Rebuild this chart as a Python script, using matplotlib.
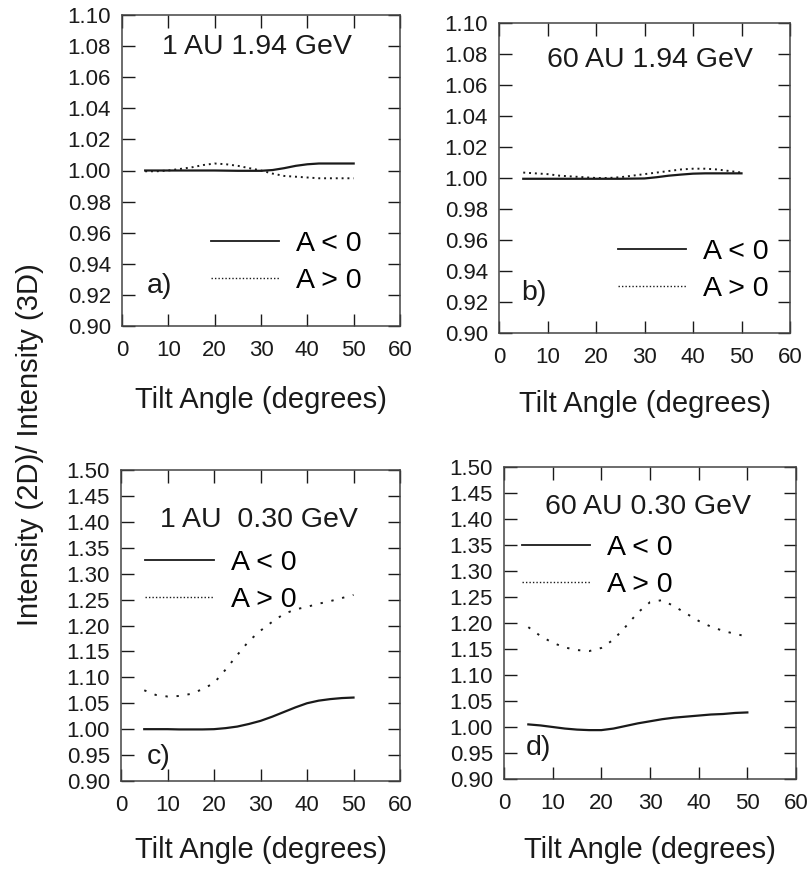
import numpy as np
import matplotlib
matplotlib.use("Agg")
import matplotlib.pyplot as plt
from matplotlib.lines import Line2D

plt.rcParams['font.family'] = ['Liberation Sans', 'DejaVu Sans']

################ Data ################

tilt = [5, 7.5, 10, 12.5, 15, 17.5, 20, 22.5, 25, 27.5, 30,
        32.5, 35, 37.5, 40, 42.5, 45, 47.5, 50]

a_neg = [1.000, 1.000, 1.000, 1.000, 1.000, 1.000, 1.000, 0.9999, 0.9998, 0.9998, 0.9998,
         1.0003, 1.0015, 1.003, 1.004, 1.0045, 1.0045, 1.0045, 1.0045]
a_pos = [0.9995, 0.9995, 1.000, 1.001, 1.002, 1.0035, 1.0045, 1.004, 1.003, 1.0015, 1.000,
         0.998, 0.9965, 0.996, 0.9955, 0.995, 0.995, 0.995, 0.995]

b_neg = [0.9995, 0.9995, 0.9995, 0.9995, 0.9995, 0.9995, 0.9995, 0.9995, 0.9995, 0.9996, 0.9997,
         1.0005, 1.0015, 1.0022, 1.0028, 1.003, 1.003, 1.003, 1.003]
b_pos = [1.0035, 1.003, 1.0025, 1.0015, 1.001, 1.0005, 1.000, 1.000, 1.0005, 1.0015, 1.0025,
         1.0035, 1.0045, 1.0055, 1.006, 1.006, 1.0055, 1.0045, 1.0035]

c_neg = [1.000, 1.000, 1.000, 0.9995, 0.9995, 0.9995, 1.000, 1.002, 1.005, 1.010, 1.016,
         1.024, 1.033, 1.042, 1.050, 1.055, 1.058, 1.060, 1.061]
c_pos = [1.075, 1.066, 1.063, 1.064, 1.068, 1.077, 1.089, 1.115, 1.143, 1.170, 1.190,
         1.207, 1.222, 1.231, 1.236, 1.242, 1.247, 1.253, 1.259]

d_neg = [1.005, 1.003, 1.000, 0.997, 0.995, 0.994, 0.994, 0.997, 1.002, 1.007, 1.011,
         1.015, 1.018, 1.020, 1.022, 1.024, 1.025, 1.027, 1.028]
d_pos = [1.192, 1.175, 1.162, 1.153, 1.148, 1.146, 1.152, 1.168, 1.193, 1.220, 1.240,
         1.244, 1.232, 1.218, 1.204, 1.193, 1.185, 1.179, 1.174]

titles = ['1 AU 1.94 GeV', '60 AU 1.94 GeV', '1 AU  0.30 GeV', '60 AU 0.30 GeV']
tags = ['a)', 'b)', 'c)', 'd)']
labels = ['A < 0', 'A > 0']
xticks = [0, 10, 20, 30, 40, 50, 60]
yticks_top = [0.90, 0.92, 0.94, 0.96, 0.98, 1.00, 1.02, 1.04, 1.06, 1.08, 1.10]
yticks_bot = [0.90, 0.95, 1.00, 1.05, 1.10, 1.15, 1.20, 1.25, 1.30, 1.35, 1.40, 1.45, 1.50]

################ Layout ################

W, H = 809, 875
fig = plt.figure(figsize=(W / 100, H / 100), dpi=100)

# axes boxes in pixels: left, top, right, bottom
boxes = [(122, 15, 400, 326), (499, 23, 790, 333),
         (121, 470, 400, 781), (504, 467, 796, 779)]
title_pos = [(0.486, 0.897), (0.519, 0.880), (0.495, 0.839), (0.493, 0.872)]
tag_pos = [(0.09, 0.129), (0.076, 0.129), (0.093, 0.077), (0.075, 0.100)]
xlabel_y = [400, 404, 850, 850]
# legend anchor (upper left corner, axes fraction)
leg_pos = [(0.32, 0.305), (0.408, 0.304), (0.087, 0.744), (0.061, 0.781)]

series = [(a_neg, a_pos), (b_neg, b_pos), (c_neg, c_pos), (d_neg, d_pos)]
ink = '#1a1a1a'

for i, (l, t, r, b) in enumerate(boxes):
    ax = fig.add_axes([l / W, 1 - b / H, (r - l) / W, (b - t) / H])
    neg, pos = series[i]
    dots = (0, (1, 2)) if i < 2 else (0, (1.2, 4.5))
    ax.plot(tilt, neg, color=ink, lw=1.6, ls='-')
    ax.plot(tilt, pos, color=ink, lw=1.4, ls=dots)

    ax.set_xlim(0, 60)
    ax.set_xticks(xticks)
    if i < 2:
        ax.set_ylim(0.90, 1.10)
        ax.set_yticks(yticks_top)
        ax.set_yticklabels(['%.2f' % v for v in yticks_top])
    else:
        ax.set_ylim(0.90, 1.50)
        ax.set_yticks(yticks_bot)
        ax.set_yticklabels(['%.2f' % v for v in yticks_bot])

    ax.tick_params(direction='in', length=9, width=1.0, top=True, right=True,
                   labelsize=16, colors=ink, pad=8)
    ax.tick_params(axis='x', pad=10)
    for s in ax.spines.values():
        s.set_linewidth(1.1)
        s.set_color('#444444')

    ax.text(*title_pos[i], titles[i], transform=ax.transAxes, fontsize=20.5,
            ha='center', va='center', color=ink)
    ax.text(*tag_pos[i], tags[i], transform=ax.transAxes, fontsize=20.5,
            ha='left', va='center', color=ink)

    handles = [Line2D([], [], color=ink, lw=1.3, ls='-'),
               Line2D([], [], color=ink, lw=1.0, ls=(0, (1, 1.5)))]
    ax.legend(handles, labels, loc='upper left', bbox_to_anchor=leg_pos[i],
              frameon=False, fontsize=20.5, handlelength=2.4, handletextpad=0.6,
              labelspacing=0.39, borderpad=0, borderaxespad=0)

    ax.set_xlabel('Tilt Angle (degrees)', fontsize=21, color=ink, va='center')
    ax.xaxis.set_label_coords(0.5, (b - xlabel_y[i]) / (b - t))

fig.text(30 / W, 1 - 445 / H, 'Intensity (2D)/ Intensity (3D)', rotation=90,
         fontsize=21, ha='center', va='center', color=ink)

fig.savefig('out.png', dpi=100)
